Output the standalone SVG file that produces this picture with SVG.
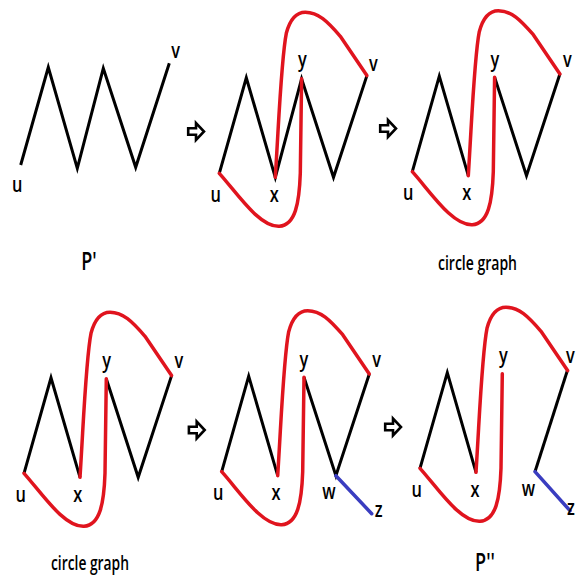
<svg xmlns="http://www.w3.org/2000/svg" width="576" height="578" viewBox="0 0 576 578">
<defs>
<style>
.bk{fill:none;stroke:#000;stroke-width:3;stroke-linejoin:miter;stroke-linecap:butt}
.rd{fill:none;stroke:#e0141e;stroke-width:3.5;stroke-linecap:round;stroke-linejoin:round}
.bl{fill:none;stroke:#3a3dc0;stroke-width:3.5;stroke-linecap:round}
.lb{font-family:"Open Sans","Liberation Sans",sans-serif;font-weight:600;font-size:21px;fill:#000;text-anchor:middle}
.cap{font-family:"Open Sans","Liberation Sans",sans-serif;font-weight:600;font-size:19px;fill:#000;text-anchor:middle}
.pl{font-family:"Open Sans","Liberation Sans",sans-serif;font-weight:600;font-size:25px;fill:#000;text-anchor:middle}
.ar{fill:#fff;stroke:#000;stroke-width:2.6;stroke-linejoin:miter}
</style>
<path id="redTop" d="M56,4 C60,-60 62,-115 67,-140 C71,-155 77,-161 86,-161 C99,-161 108,-152 121,-137 L147.6,-97.7"/>
<path id="redBot" d="M0,0 C18,20 40,54 60,53 C76,52 80,30 81,0 L82.3,-94.5"/>
<polygon id="arrow" points="-7.8,-3.2 0,-3.2 0,-8.5 8,0 0,8.5 0,3.2 -7.8,3.2"/>
</defs>

<!-- Panel 1: P' -->
<g id="panel1" transform="translate(20.7,165)">
<g id="p1-edges"><polyline class="bk" points="0,0 27.6,-97.7 56.6,3.3 82.6,-96.7 115,2.3 148.6,-101.7"/></g>
<g id="p1-u"><text class="lb" transform="translate(-3.4,26.5) scale(0.78,1)">u</text></g>
<g id="p1-v"><text class="lb" transform="translate(155,-107) scale(0.78,1)">v</text></g>
</g>
<g id="label-P1"><text class="pl" transform="translate(89,270) scale(0.72,1)">P'</text></g>

<!-- Panel 2 -->
<g id="panel2" transform="translate(219.3,173.3)">
<g id="p2-edges">
<polyline class="bk" points="0,0 27,-95.5 56,4 82.3,-94.5 114.2,4 147.6,-97.7"/>
<use href="#redTop" class="rd"/>
<use href="#redBot" class="rd"/>
</g>
<g id="p2-u"><text class="lb" transform="translate(-3.5,28.3) scale(0.78,1)">u</text></g>
<g id="p2-x"><text class="lb" transform="translate(55,28.3) scale(0.78,1)">x</text></g>
<g id="p2-y"><text class="lb" transform="translate(83,-106) scale(0.78,1)">y</text></g>
<g id="p2-v"><text class="lb" transform="translate(154,-102) scale(0.78,1)">v</text></g>
</g>

<!-- Panel 3 -->
<g id="panel3" transform="translate(412.3,171.7)">
<g id="p3-edges">
<polyline class="bk" points="0,0 27,-95.5 56,4"/>
<polyline class="bk" points="82.3,-94.5 114.2,4 147.6,-97.7"/>
<use href="#redTop" class="rd"/>
<use href="#redBot" class="rd"/>
</g>
<g id="p3-u"><text class="lb" transform="translate(-4,28.3) scale(0.78,1)">u</text></g>
<g id="p3-x"><text class="lb" transform="translate(54.4,28.3) scale(0.78,1)">x</text></g>
<g id="p3-y"><text class="lb" transform="translate(82.7,-104.7) scale(0.78,1)">y</text></g>
<g id="p3-v"><text class="lb" transform="translate(155,-104.7) scale(0.78,1)">v</text></g>
</g>
<g id="label-cg1"><text class="cap" x="477.5" y="269.5" textLength="79" lengthAdjust="spacingAndGlyphs">circle graph</text></g>

<!-- Panel 4 -->
<g id="panel4" transform="translate(24,473.3)">
<g id="p4-edges">
<polyline class="bk" points="0,0 27,-95.5 56,4"/>
<polyline class="bk" points="82.3,-94.5 114.2,4 147.6,-97.7"/>
<use href="#redTop" class="rd"/>
<use href="#redBot" class="rd"/>
</g>
<g id="p4-u"><text class="lb" transform="translate(-3.3,28.4) scale(0.78,1)">u</text></g>
<g id="p4-x"><text class="lb" transform="translate(53.7,28.4) scale(0.78,1)">x</text></g>
<g id="p4-y"><text class="lb" transform="translate(82.7,-105.3) scale(0.78,1)">y</text></g>
<g id="p4-v"><text class="lb" transform="translate(155,-105) scale(0.78,1)">v</text></g>
</g>
<g id="label-cg2"><text class="cap" x="90" y="569.5" textLength="78" lengthAdjust="spacingAndGlyphs">circle graph</text></g>

<!-- Panel 5 -->
<g id="panel5" transform="translate(221.7,471.7)">
<g id="p5-edges">
<polyline class="bk" points="0,0 27,-95.5 56,4"/>
<polyline class="bk" points="82.3,-94.5 114.2,4 147.6,-97.7"/>
<use href="#redTop" class="rd"/>
<use href="#redBot" class="rd"/>
<line class="bl" x1="114.2" y1="4" x2="150" y2="42"/>
</g>
<g id="p5-u"><text class="lb" transform="translate(-3.4,28.3) scale(0.78,1)">u</text></g>
<g id="p5-x"><text class="lb" transform="translate(54.3,28.3) scale(0.78,1)">x</text></g>
<g id="p5-y"><text class="lb" transform="translate(82.3,-104.7) scale(0.78,1)">y</text></g>
<g id="p5-v"><text class="lb" transform="translate(155,-105) scale(0.78,1)">v</text></g>
<g id="p5-w"><text class="lb" transform="translate(107.3,27.6) scale(0.78,1)">w</text></g>
<g id="p5-z"><text class="lb" transform="translate(157,45) scale(0.78,1)">z</text></g>
</g>

<!-- Panel 6: P'' -->
<g id="panel6" transform="translate(420,468.3)">
<g id="p6-edges">
<polyline class="bk" points="0,0 27.3,-95.6 56,4"/>
<polyline class="bk" points="115,3.4 147.3,-97.6"/>
<use href="#redTop" class="rd"/>
<use href="#redBot" class="rd"/>
<line class="bl" x1="115" y1="3.4" x2="150" y2="42.4"/>
</g>
<g id="p6-u"><text class="lb" transform="translate(-3.3,28.4) scale(0.78,1)">u</text></g>
<g id="p6-x"><text class="lb" transform="translate(55,28.4) scale(0.78,1)">x</text></g>
<g id="p6-y"><text class="lb" transform="translate(83.3,-105) scale(0.78,1)">y</text></g>
<g id="p6-v"><text class="lb" transform="translate(150.5,-105) scale(0.78,1)">v</text></g>
<g id="p6-w"><text class="lb" transform="translate(108.3,27.7) scale(0.78,1)">w</text></g>
<g id="p6-z"><text class="lb" transform="translate(151,46.7) scale(0.78,1)">z</text></g>
</g>
<g id="label-P2"><text class="pl" transform="translate(485,571) scale(0.72,1)">P''</text></g>

<!-- Transition arrows -->
<g id="arrows">
<use href="#arrow" class="ar" transform="translate(196,131.5)"/>
<use href="#arrow" class="ar" transform="translate(388,128.5)"/>
<use href="#arrow" class="ar" transform="translate(196.7,430)"/>
<use href="#arrow" class="ar" transform="translate(393,427)"/>
</g>
</svg>
